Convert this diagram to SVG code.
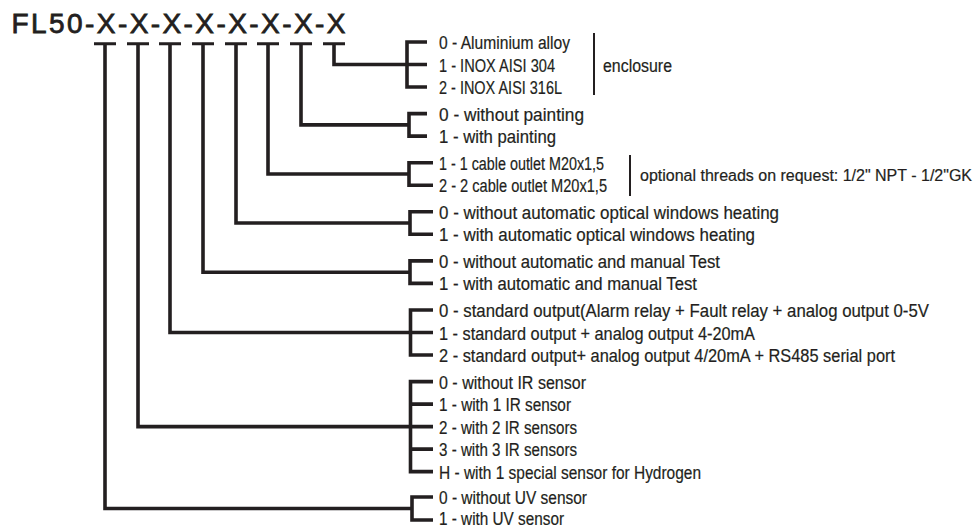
<svg xmlns="http://www.w3.org/2000/svg" width="976" height="529" viewBox="0 0 976 529">
<style>
.t{font-family:"Liberation Sans",Arial,sans-serif;font-size:18.3px;fill:#231f20;stroke:#231f20;stroke-width:0.2}
.s{font-size:16px}
.title{font-family:"Liberation Sans",Arial,sans-serif;font-size:28px;fill:#231f20;stroke:#231f20;stroke-width:0.8}
.ln{fill:none;stroke:#231f20;stroke-width:3.6;stroke-linejoin:miter;stroke-linecap:butt}
.ul{fill:none;stroke:#231f20;stroke-width:3}
.sep{fill:none;stroke:#231f20;stroke-width:2}
</style>
<rect width="976" height="529" fill="#ffffff"/>
<g id="title">
<text class="title" x="11.5" y="33" textLength="334" lengthAdjust="spacing">FL50-X-X-X-X-X-X-X-X</text>
<path class="ul" d="M94,43.8H116M127,43.8H149M159,43.8H181M192,43.8H214M225,43.8H247M257,43.8H279M290,43.8H312M323,43.8H345"/>
</g>
<g id="connectors">
<path class="ln" d="M105,44V508.5H412"/>
<path class="ln" d="M138,44V426.6H410.5"/>
<path class="ln" d="M170,44V332.5H410.5"/>
<path class="ln" d="M203,44V272.2H410"/>
<path class="ln" d="M236,44V223H410"/>
<path class="ln" d="M268,44V174H409"/>
<path class="ln" d="M301,44V124.9H409"/>
<path class="ln" d="M334,44V64.5H407"/>
</g>
<g id="enclosure">
<path class="ln" d="M427,42H407V87H427M407,64.5H427"/>
<text class="t" x="439" y="49" textLength="131" lengthAdjust="spacingAndGlyphs">0 - Aluminium alloy</text>
<text class="t" x="439" y="71.5" textLength="116" lengthAdjust="spacingAndGlyphs">1 - INOX AISI 304</text>
<text class="t" x="439" y="94" textLength="123" lengthAdjust="spacingAndGlyphs">2 - INOX AISI 316L</text>
<path class="sep" d="M594,33V95"/>
<text class="t" x="603" y="71.5" textLength="69" lengthAdjust="spacingAndGlyphs">enclosure</text>
</g>
<g id="painting">
<path class="ln" d="M427,113.6H409V136.1H427"/>
<text class="t" x="439" y="120.6" textLength="145" lengthAdjust="spacingAndGlyphs">0 - without painting</text>
<text class="t" x="439" y="143.1" textLength="117" lengthAdjust="spacingAndGlyphs">1 - with painting</text>
</g>
<g id="cable">
<path class="ln" d="M433,162.7H409V185.2H433"/>
<text class="t" x="439" y="169.7" textLength="165" lengthAdjust="spacingAndGlyphs">1 - 1 cable outlet M20x1,5</text>
<text class="t" x="439" y="192.2" textLength="168" lengthAdjust="spacingAndGlyphs">2 - 2 cable outlet M20x1,5</text>
<path class="sep" d="M630,155V196"/>
<text class="t s" x="640" y="181" textLength="332" lengthAdjust="spacingAndGlyphs">optional threads on request: 1/2" NPT - 1/2"GK</text>
</g>
<g id="heating">
<path class="ln" d="M433,211.8H410V234.3H433"/>
<text class="t" x="439" y="218.8" textLength="340" lengthAdjust="spacingAndGlyphs">0 - without automatic optical windows heating</text>
<text class="t" x="439" y="241.3" textLength="316" lengthAdjust="spacingAndGlyphs">1 - with automatic optical windows heating</text>
</g>
<g id="test">
<path class="ln" d="M433,260.9H410V283.4H433"/>
<text class="t" x="439" y="267.9" textLength="281" lengthAdjust="spacingAndGlyphs">0 - without automatic and manual Test</text>
<text class="t" x="439" y="290.4" textLength="258" lengthAdjust="spacingAndGlyphs">1 - with automatic and manual Test</text>
</g>
<g id="output">
<path class="ln" d="M433,310H410.5V355H433M410.5,332.5H433"/>
<text class="t" x="439" y="317" textLength="490" lengthAdjust="spacingAndGlyphs">0 - standard output(Alarm relay + Fault relay + analog output 0-5V</text>
<text class="t" x="439" y="339.5" textLength="316" lengthAdjust="spacingAndGlyphs">1 - standard output + analog output 4-20mA</text>
<text class="t" x="439" y="362" textLength="456" lengthAdjust="spacingAndGlyphs">2 - standard output+ analog output 4/20mA + RS485 serial port</text>
</g>
<g id="ir">
<path class="ln" d="M433,381.6H410.5V471.6H433M410.5,404.1H433M410.5,426.6H433M410.5,449.1H433"/>
<text class="t" x="439" y="388.6" textLength="147" lengthAdjust="spacingAndGlyphs">0 - without IR sensor</text>
<text class="t" x="439" y="411.1" textLength="132" lengthAdjust="spacingAndGlyphs">1 - with 1 IR sensor</text>
<text class="t" x="439" y="433.6" textLength="138" lengthAdjust="spacingAndGlyphs">2 - with 2 IR sensors</text>
<text class="t" x="439" y="456.1" textLength="138" lengthAdjust="spacingAndGlyphs">3 - with 3 IR sensors</text>
<text class="t" x="439" y="478.6" textLength="262" lengthAdjust="spacingAndGlyphs">H - with 1 special sensor for Hydrogen</text>
</g>
<g id="uv">
<path class="ln" d="M433,497H412V520H433"/>
<text class="t" x="439" y="504" textLength="148" lengthAdjust="spacingAndGlyphs">0 - without UV sensor</text>
<text class="t" x="439" y="524.5" textLength="125" lengthAdjust="spacingAndGlyphs">1 - with UV sensor</text>
</g>
</svg>
